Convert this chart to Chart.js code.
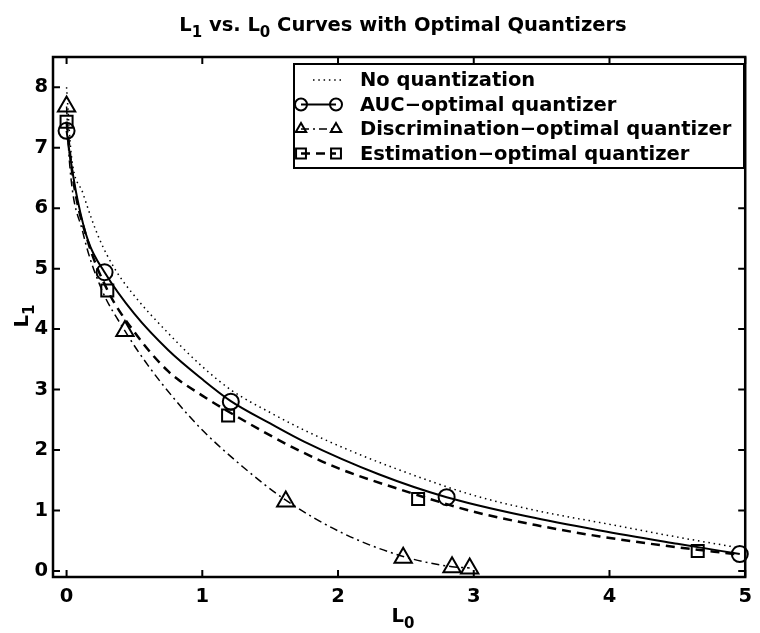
<!DOCTYPE html>
<html>
<head>
<meta charset="utf-8">
<script src="https://cdn.jsdelivr.net/npm/chart.js@4/dist/chart.umd.min.js"></script>
<style>
  body { margin: 0; background: #fff; }
  canvas { display: block; }
</style>
</head>
<body>
<canvas id="myChart" width="760" height="633"></canvas>
<script>
// tick labels
const xTicks = [0, 1, 2, 3, 4, 5];
const yTicks = [0, 1, 2, 3, 4, 5, 6, 7, 8];

// curves
const noQuantX = [0, 0.034, 0.12, 0.24, 0.36, 0.5, 0.72, 1.0, 1.22, 1.5, 1.75, 2.1, 2.44, 3.0, 3.5, 3.93, 4.5, 4.96];
const noQuantY = [8.0, 6.9, 6.25, 5.5, 4.98, 4.55, 4.0, 3.38, 2.98, 2.62, 2.33, 1.98, 1.68, 1.25, 0.98, 0.8, 0.56, 0.38];

const aucX = [0, 0.03, 0.08, 0.16, 0.28, 0.5, 0.75, 1.0, 1.21, 1.5, 1.75, 2.3, 2.8, 3.4, 3.93, 4.5, 4.96];
const aucY = [7.28, 6.8, 6.15, 5.45, 4.94, 4.25, 3.65, 3.17, 2.81, 2.44, 2.14, 1.6, 1.22, 0.9, 0.67, 0.45, 0.28];

const discX = [0, 0.02, 0.12, 0.25, 0.43, 0.6, 0.8, 1.0, 1.3, 1.615, 2.03, 2.48, 2.84, 2.97];
const discY = [7.68, 6.8, 5.6, 4.7, 3.97, 3.4, 2.83, 2.33, 1.72, 1.17, 0.63, 0.24, 0.07, 0.05];

const estX = [0, 0.05, 0.15, 0.3, 0.5, 0.75, 1.0, 1.25, 1.67, 2.0, 2.44, 3.0, 3.5, 3.93, 4.4, 4.96];
const estY = [7.43, 6.45, 5.5, 4.65, 3.95, 3.3, 2.9, 2.56, 2.04, 1.7, 1.36, 0.98, 0.74, 0.57, 0.42, 0.27];

// quantizer points (markers)
const aucMarkX = [0, 0.28, 1.21, 2.8, 4.96];
const aucMarkY = [7.28, 4.94, 2.8, 1.22, 0.28];
const discMarkX = [0, 0.43, 1.615, 2.48, 2.84, 2.97];
const discMarkY = [7.68, 3.97, 1.15, 0.22, 0.06, 0.04];
const estMarkX = [0, 0.3, 1.19, 2.59, 4.65];
const estMarkY = [7.43, 4.64, 2.57, 1.19, 0.33];

const legendNames = ['No quantization', 'AUC\u2212optimal quantizer', 'Discrimination\u2212optimal quantizer', 'Estimation\u2212optimal quantizer'];

const FONT = 'bold 19.5px "DejaVu Sans"';
const SUBFONT = 'bold 15px "DejaVu Sans"';

const pts = (xs, ys) => xs.map((x, i) => ({ x: x, y: ys[i] }));

const dotted = [1.5, 3.8];
const dashDot = [8, 4, 2, 4];
const dashed = [9, 6];

function curve(xs, ys, dash, width) {
  return {
    data: pts(xs, ys),
    borderColor: '#000',
    borderWidth: width,
    borderDash: dash,
    pointRadius: 0,
    fill: false,
    cubicInterpolationMode: 'monotone'
  };
}
function markers(xs, ys, style, r) {
  return {
    data: pts(xs, ys),
    showLine: false,
    pointStyle: style,
    pointRadius: r,
    pointBorderColor: '#000',
    pointBackgroundColor: 'rgba(0,0,0,0)',
    pointBorderWidth: 2,
    clip: false
  };
}

// text with subscripts, parts = [[text, isSub], ...]
function drawParts(ctx, parts, x, y, align) {
  let w = 0;
  parts.forEach(p => { ctx.font = p[1] ? SUBFONT : FONT; w += ctx.measureText(p[0]).width; });
  let cx = align === 'center' ? x - w / 2 : x;
  ctx.textAlign = 'left';
  ctx.textBaseline = 'alphabetic';
  parts.forEach(p => {
    ctx.font = p[1] ? SUBFONT : FONT;
    ctx.fillText(p[0], cx, y + (p[1] ? 6 : 0));
    cx += ctx.measureText(p[0]).width;
  });
}

function legendSample(ctx, i, x0, x1, y) {
  ctx.save();
  ctx.strokeStyle = '#000';
  ctx.lineWidth = [1.5, 2, 1.5, 2.5][i];
  ctx.setLineDash([dotted, [], dashDot, dashed][i]);
  ctx.beginPath();
  if (i === 0) { ctx.moveTo(x0 + 12, y); ctx.lineTo(x1 + 6, y); }
  else { ctx.moveTo(x0, y); ctx.lineTo(x1, y); }
  ctx.stroke();
  ctx.setLineDash([]);
  ctx.lineWidth = 2;
  ctx.fillStyle = 'rgba(0,0,0,0)';
  const style = [null, 'circle', 'triangle', 'rect'][i];
  if (style) {
    [x0, x1].forEach(px => {
      Chart.helpers.drawPoint(ctx, { pointStyle: style, radius: style === 'rect' ? 7 : 6, rotation: 0, borderWidth: 2 }, px, y);
    });
  }
  ctx.restore();
}

const framePlugin = {
  id: 'frame',
  afterDraw(chart) {
    const ctx = chart.ctx;
    const a = chart.chartArea;
    const xs = chart.scales.x, ys = chart.scales.y;
    ctx.save();
    ctx.strokeStyle = '#000';
    ctx.fillStyle = '#000';
    // inward ticks on all four sides
    ctx.lineWidth = 2;
    ctx.beginPath();
    xTicks.forEach(v => {
      const px = xs.getPixelForValue(v);
      ctx.moveTo(px, a.bottom); ctx.lineTo(px, a.bottom - 7);
      ctx.moveTo(px, a.top); ctx.lineTo(px, a.top + 7);
    });
    yTicks.forEach(v => {
      const py = ys.getPixelForValue(v);
      ctx.moveTo(a.left, py); ctx.lineTo(a.left + 7, py);
      ctx.moveTo(a.right, py); ctx.lineTo(a.right - 7, py);
    });
    ctx.stroke();
    ctx.lineWidth = 2.5;
    ctx.strokeRect(a.left, a.top, a.right - a.left, a.bottom - a.top);

    // title and axis labels
    drawParts(ctx, [['L', 0], ['1', 1], [' vs. L', 0], ['0', 1], [' Curves with Optimal Quantizers', 0]], 403, 31, 'center');
    drawParts(ctx, [['L', 0], ['0', 1]], 403, 622, 'center');
    ctx.save();
    ctx.translate(28, 316);
    ctx.rotate(-Math.PI / 2);
    drawParts(ctx, [['L', 0], ['1', 1]], 0, 0, 'center');
    ctx.restore();

    // legend
    const lx = 294, ly = 64, lw = 450, lh = 104;
    ctx.fillStyle = '#fff';
    ctx.fillRect(lx, ly, lw, lh);
    ctx.lineWidth = 2;
    ctx.strokeRect(lx, ly, lw, lh);
    legendNames.forEach((name, i) => {
      const ry = 80 + i * 24.5;
      legendSample(ctx, i, 301, 336, ry);
      ctx.font = FONT;
      ctx.textAlign = 'left';
      ctx.textBaseline = 'middle';
      ctx.fillStyle = '#000';
      ctx.fillText(name, 360, ry + 1);
    });
    ctx.restore();
  }
};

const tickFont = { family: 'DejaVu Sans', size: 19.5, weight: 'bold' };

new Chart(document.getElementById('myChart').getContext('2d'), {
  type: 'line',
  data: {
    datasets: [
      curve(noQuantX, noQuantY, dotted, 1.5),
      curve(aucX, aucY, [], 2),
      curve(discX, discY, dashDot, 1.5),
      curve(estX, estY, dashed, 2.5),
      markers(aucMarkX, aucMarkY, 'circle', 8),
      markers(discMarkX, discMarkY, 'triangle', 10),
      markers(estMarkX, estMarkY, 'rect', 8.5)
    ]
  },
  options: {
    responsive: false,
    devicePixelRatio: 1,
    animation: false,
    layout: { padding: { top: 57, right: 11, left: 0, bottom: 0 } },
    plugins: { legend: { display: false }, tooltip: { enabled: false }, title: { display: false } },
    scales: {
      x: {
        type: 'linear',
        min: -0.1,
        max: 5,
        afterBuildTicks: s => { s.ticks = xTicks.map(v => ({ value: v })); },
        afterFit: s => { s.height = 56; },
        ticks: { font: tickFont, color: '#000', padding: 8, maxRotation: 0 },
        grid: { display: false, drawTicks: false },
        border: { display: false }
      },
      y: {
        type: 'linear',
        min: -0.1,
        max: 8.5,
        afterBuildTicks: s => { s.ticks = yTicks.map(v => ({ value: v })); },
        afterFit: s => { s.width = 53; },
        ticks: { font: tickFont, color: '#000', padding: 5 },
        grid: { display: false, drawTicks: false },
        border: { display: false }
      }
    }
  },
  plugins: [framePlugin]
});
</script>
</body>
</html>
